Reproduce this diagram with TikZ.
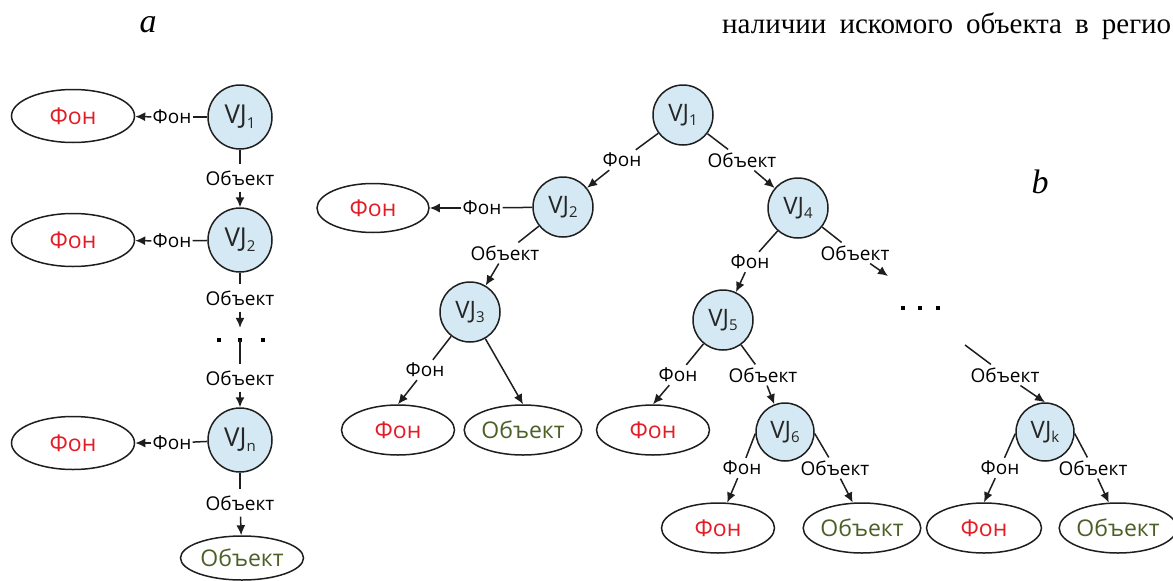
\documentclass[tikz,border=0pt]{standalone}
\usepackage{fontspec}
\setmainfont{Liberation Serif}
\newfontfamily\labfont{Open Sans}
\usetikzlibrary{arrows.meta,shapes.geometric}
\definecolor{vjfill}{RGB}{212,233,243}
\definecolor{fonred}{RGB}{228,28,38}
\definecolor{objgreen}{RGB}{76,96,38}
\definecolor{edgegray}{RGB}{30,30,30}
\newcommand\vs[1]{\raisebox{-0.3ex}{\fontsize{15}{15}\selectfont #1}}
\begin{document}
\begin{tikzpicture}[x=1pt,y=-1pt,
  vj/.style={circle,draw=edgegray,line width=1.5pt,fill=vjfill,minimum size=60pt,inner sep=0pt,
    font=\labfont\fontsize{24}{24}\selectfont,text=black!85},
  vja/.style={vj,minimum size=64pt,font=\labfont\fontsize{26}{26}\selectfont},
  leaf/.style={ellipse,draw=edgegray,line width=1.5pt,fill=white,minimum width=113pt,minimum height=50pt,
    inner sep=0pt,font=\labfont\fontsize{23}{23}\selectfont},
  fon/.style={leaf,text=fonred},
  obj/.style={leaf,text=objgreen},
  lab/.style={inner sep=3pt,font=\labfont\fontsize{19}{19}\selectfont,text=black},
  hlab/.style={lab,inner xsep=1pt,inner ysep=1pt},
  vlab/.style={lab,inner xsep=1pt,inner ysep=6pt},
  dotsbox/.style={inner sep=0pt,minimum width=50pt,minimum height=24pt},
  dotsq/.style={fill=black,minimum size=4.5pt,inner sep=0pt},
  conn/.style={line width=1.5pt,draw=edgegray},
  arr/.style={conn,-{Latex[length=10pt,width=9pt]}},
  caption/.style={font=\itshape\fontsize{34}{34}\selectfont,anchor=base},
]
\useasboundingbox (0,0) rectangle (1173,581);

% captions and text
\node[caption] (capa) at (148,32) {a};
\node[caption] (capb) at (1040,193) {b};
\node[anchor=base west,font=\fontsize{29}{29}\selectfont,inner sep=0pt] (toptext) at (722,33) {\makebox[449pt][s]{наличии искомого объекта в регио}};

% ---------------- part a ----------------
\node[vja] (aV1) at (240,117) {VJ\vs{1}};
\node[fon,minimum width=123pt,minimum height=53pt] (aF1) at (73,116) {Фон};
\node[hlab] (aL1) at (172,117) {Фон};
\node[vlab] (aO1) at (240,178) {Объект};
\node[vja] (aV2) at (240,240) {VJ\vs{2}};
\node[fon,minimum width=123pt,minimum height=53pt] (aF2) at (73,240) {Фон};
\node[hlab] (aL2) at (172,241) {Фон};
\node[vlab] (aO2) at (240,298) {Объект};
\node[dotsbox] (aD) at (240,340) {};
\node[dotsq] (aD1) at (219,340) {};
\node[dotsq] (aD2) at (240,340) {};
\node[dotsq] (aD3) at (263,340) {};
\node[vlab] (aO3) at (240,378) {Объект};
\node[vja] (aVn) at (240,440) {VJ\vs{n}};
\node[fon,minimum width=123pt,minimum height=53pt] (aF3) at (73,443) {Фон};
\node[hlab] (aL3) at (172,443) {Фон};
\node[vlab] (aO4) at (240,503) {Объект};
\node[obj,minimum width=123pt,minimum height=44pt] (aObj) at (242,558) {Объект};

\draw[conn] (aV1) -- (aL1); \draw[arr] (aL1) -- (aF1);
\draw[conn] (aV1) -- (aO1); \draw[arr] (aO1) -- (aV2);
\draw[conn] (aV2) -- (aL2); \draw[arr] (aL2) -- (aF2);
\draw[conn] (aV2) -- (aO2); \draw[arr] (aO2) -- (aD);
\draw[conn] (aD.center) -- (aO3); \draw[arr] (aO3) -- (aVn);
\draw[conn] (aVn) -- (aL3); \draw[arr] (aL3) -- (aF3);
\draw[conn] (aVn) -- (aO4); \draw[arr] (aO4) -- (aObj);

% ---------------- part b ----------------
\node[vj] (V1) at (683,115) {VJ\vs{1}};
\node[vj] (V2) at (563,207) {VJ\vs{2}};
\node[vj] (V4) at (798,208) {VJ\vs{4}};
\node[vj] (V3) at (470,312) {VJ\vs{3}};
\node[vj] (V5) at (723,320) {VJ\vs{5}};
\node[vj,minimum size=58pt] (V6) at (785,432) {VJ\vs{6}};
\node[vj,minimum size=58pt] (Vk) at (1045,432) {VJ\vs{k}};

\node[fon,minimum width=112pt,minimum height=49pt] (F2) at (373,208) {Фон};
\node[fon] (F3) at (398,430) {Фон};
\node[obj] (O3) at (523,430) {Объект};
\node[fon] (F5) at (653,430) {Фон};
\node[fon] (F6) at (718,528) {Фон};
\node[obj,minimum width=111pt] (O6) at (862,528) {Объект};
\node[fon,minimum width=115pt] (Fk) at (984,528) {Фон};
\node[obj,minimum width=108pt] (Ok) at (1118,528) {Объект};

\node[lab] (l12) at (622,160) {Фон};
\node[lab] (l14) at (742,160) {Объект};
\node[hlab] (l2F) at (482,208) {Фон};
\node[lab] (l23) at (505,253) {Объект};
\node[lab] (l3F) at (425,370) {Фон};
\node[lab] (l45) at (750,262) {Фон};
\node[lab] (l4o) at (855,253) {Объект};
\node[lab] (l5F) at (678,375) {Фон};
\node[lab] (l56) at (763,375) {Объект};
\node[lab] (l6F) at (742,468) {Фон};
\node[lab] (l6O) at (835,468) {Объект};
\node[lab] (lkin) at (1005,375) {Объект};
\node[lab] (lkF) at (1000,468) {Фон};
\node[lab] (lkO) at (1093,468) {Объект};

\node[dotsq] (bD1) at (903,308) {};
\node[dotsq] (bD2) at (920,308) {};
\node[dotsq] (bD3) at (938,308) {};
\coordinate (cD) at (888,276);
\coordinate (cK) at (965,345);

\draw[conn] (V1) -- (l12); \draw[arr] (l12) -- (V2);
\draw[conn] (V1) -- (l14); \draw[arr] (l14) -- (V4);
\draw[conn] (V2) -- (l2F); \draw[arr] (l2F) -- (F2);
\draw[conn] (V2) -- (l23); \draw[arr] (l23) -- (V3);
\draw[conn] (V3) -- (l3F); \draw[arr] (l3F) -- (F3.north);
\draw[arr] (V3) -- (O3.north);
\draw[conn] (V4) -- (l45); \draw[arr] (l45) -- (V5);
\draw[conn] (V4) -- (l4o); \draw[arr] (l4o) -- (cD);
\draw[conn] (V5) -- (l5F); \draw[arr] (l5F) -- (F5.north);
\draw[conn] (V5) -- (l56); \draw[arr] (l56) -- (V6);
\draw[conn] (V6.183) -- (l6F); \draw[arr] (l6F) -- (F6.70);
\draw[conn] (V6.-3) -- (l6O); \draw[arr] (l6O) -- (O6.110);
\draw[conn] (cK) -- (lkin); \draw[arr] (lkin) -- (Vk.north);
\draw[conn] (Vk.183) -- (lkF); \draw[arr] (lkF) -- (Fk.north);
\draw[conn] (Vk.-3) -- (lkO); \draw[arr] (lkO) -- (Ok.110);
\end{tikzpicture}
\end{document}
